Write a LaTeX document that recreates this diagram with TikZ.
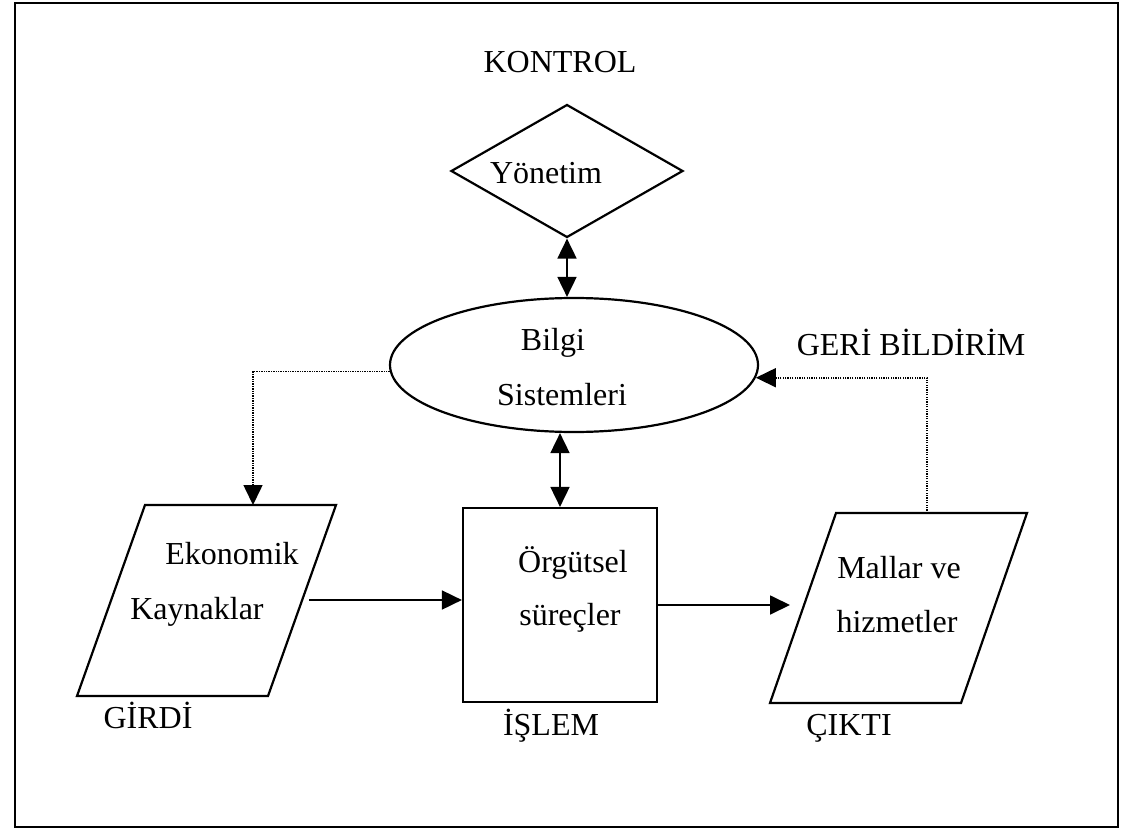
\documentclass[tikz,border=0pt]{standalone}
\usepackage{fontspec}
\setmainfont{Liberation Serif}
\usetikzlibrary{shapes.geometric,arrows.meta}

\begin{document}
\begin{tikzpicture}[x=1pt,y=-1pt,
  shp/.style={draw, line width=2.2pt, inner sep=0pt},
  paraline/.style={line width=2.2pt, line join=miter},
  lbl/.style={font=\fontsize{32}{38}\selectfont, inner sep=0pt, anchor=base},
  tip/.style={-{Triangle[length=20pt,width=19pt]}},
  both/.style={{Triangle[length=20pt,width=19pt]}-{Triangle[length=20pt,width=19pt]}},
  flow/.style={line width=1.8pt},
  fb/.style={line width=1.6pt, dash pattern=on 1.3pt off 1.1pt}]

\useasboundingbox (0,0) rectangle (1129,829);
% outer frame
\draw[line width=2.8pt] (15,3) rectangle (1118,827);

% shapes
\node[shp, diamond, minimum width=232pt, minimum height=133pt] (yon) at (567,171) {};
\node[shp, ellipse, minimum width=368pt, minimum height=134pt] (bil) at (574,365) {};
\node[shp, rectangle, minimum width=194pt, minimum height=194pt] (org) at (560,605) {};

% input parallelogram
\coordinate (ekoA) at (145,505);
\coordinate (ekoB) at (336,505);
\coordinate (ekoC) at (268,696);
\coordinate (ekoD) at (77,696);
\coordinate (ekoT) at (253,505);
\coordinate (ekoR) at (309,600);
\draw[paraline] (ekoA) -- (ekoB) -- (ekoC) -- (ekoD) -- cycle;

% output parallelogram
\coordinate (malA) at (836,513);
\coordinate (malB) at (1027,513);
\coordinate (malC) at (961,703);
\coordinate (malD) at (770,703);
\coordinate (malT) at (927,513);
\coordinate (malL) at (790,605);
\draw[paraline] (malA) -- (malB) -- (malC) -- (malD) -- cycle;

% texts
\node[lbl] (kontrol) at (560,73) {KONTROL};
\node[lbl] (tyon) at (546,183) {Yönetim};
\node[lbl] (tbil1) at (553,350) {Bilgi};
\node[lbl] (tbil2) at (562,405) {Sistemleri};
\node[lbl] (geri) at (911,355) {GERİ BİLDİRİM};
\node[lbl] (teko1) at (232,564) {Ekonomik};
\node[lbl] (teko2) at (197,619) {Kaynaklar};
\node[lbl] (girdi) at (148,728) {GİRDİ};
\node[lbl] (torg1) at (573,572) {Örgütsel};
\node[lbl] (torg2) at (570,625) {süreçler};
\node[lbl] (islem) at (551,735) {İŞLEM};
\node[lbl] (tmal1) at (899,578) {Mallar ve};
\node[lbl] (tmal2) at (897,632) {hizmetler};
\node[lbl] (cikti) at (849,735) {ÇIKTI};

% connectors
\draw[flow, both] (yon.south) -- (yon.south |- bil.north);
\draw[flow, both] (org.north |- bil.south) -- (org.north);
\draw[flow, tip] (ekoR) -- (ekoR -| org.west);
\draw[flow, tip] (org.east) -- (malL);
\draw[fb, tip] (bil.182) -| (ekoT);
\draw[fb, tip] (malT) |- (bil.-4);
\end{tikzpicture}
\end{document}
